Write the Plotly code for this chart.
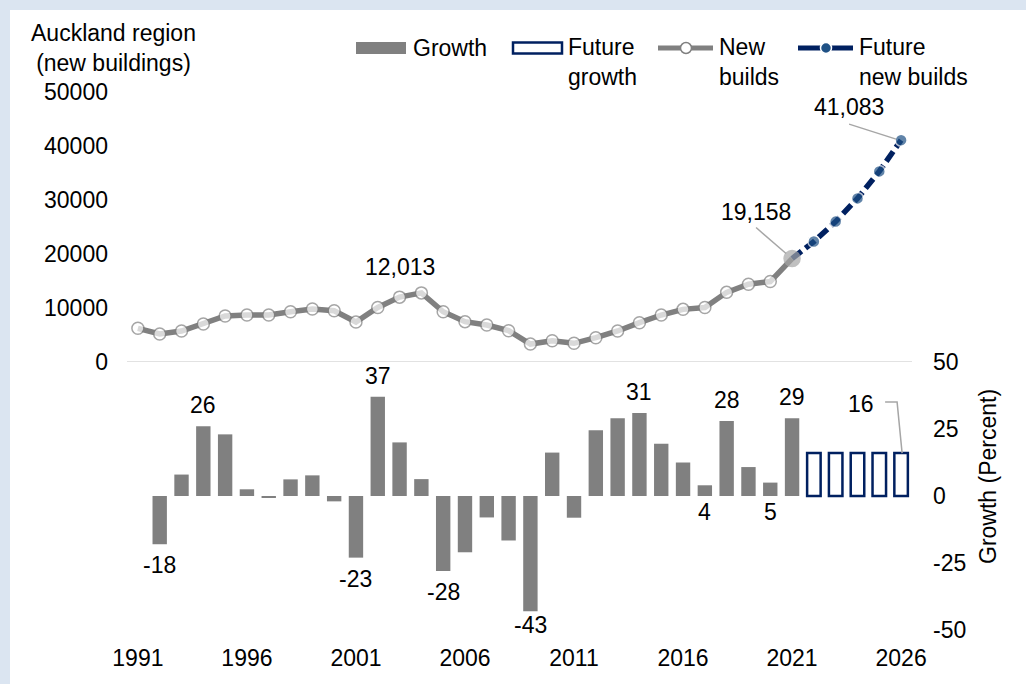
import plotly.graph_objects as go

# ---- data ----
years_hist = list(range(1991, 2022))
new_builds = [6240, 5180, 5740, 7040, 8520, 8700, 8700, 9300, 9800, 9500,
              7400, 10100, 12013, 12800, 9300, 7470, 6850, 5800, 3330, 3950,
              3460, 4500, 5740, 7280, 8700, 9750, 10100, 12900, 14400, 14900,
              19158]

years_future = list(range(2021, 2027))
future_builds = [19158, 22300, 26000, 30300, 35300, 41083]

growth_years = list(range(1992, 2022))
growth = [-18, 8, 26, 23, 2.5, -0.7, 6.2, 7.7, -2, -23,
          37, 20, 6.3, -28, -21, -8, -16.6, -43, 16.2, -8.1,
          24.5, 29, 31, 19.5, 12.5, 4, 28, 10.8, 5, 29]

future_growth_years = list(range(2022, 2027))
future_growth = [16, 16, 16, 16, 16]

growth_labelled = [1992, 1994, 2001, 2002, 2005, 2009, 2014, 2017, 2018, 2020, 2021]
growth_label_below_axis = [2017, 2020]

left_ticks = [0, 10000, 20000, 30000, 40000, 50000]
right_ticks = [-50, -25, 0, 25, 50]
x_ticks = [1991, 1996, 2001, 2006, 2011, 2016, 2021, 2026]

# ---- styling ----
FONT = "Liberation Sans, Arial, sans-serif"
FS = 23
GREY = "#808080"
LIGHT = "#a6a6a6"
NAVY = "#002060"
DOT = "#1f5185"
BAND = "#dbe5f1"

W, H = 1026, 684
L, R, T, B = 127, 114, 92, 54
PW, PH = W - L - R, H - T - B
SPLIT = (H - B - 362) / PH  # upper/lower panel boundary


def fx(px):
    return (px - L) / PW


def fy(py):
    return (H - B - py) / PH


fig = go.Figure()

# growth bars
fig.add_trace(go.Bar(x=growth_years, y=growth, yaxis="y2", width=0.66,
                     marker=dict(color=GREY, line=dict(width=0)), name="Growth"))
fig.add_trace(go.Bar(x=future_growth_years, y=future_growth, yaxis="y2", width=0.62,
                     marker=dict(color="white", line=dict(color=NAVY, width=2.5)),
                     name="Future growth"))

# future new builds line (drawn first so the 2021 point sits on top)
fig.add_trace(go.Scatter(
    x=years_future, y=future_builds, yaxis="y", mode="lines+markers",
    line=dict(color=NAVY, width=5.5, dash="12px,5px"),
    marker=dict(size=[0] + [12] * (len(years_future) - 1), color=DOT,
                line=dict(color="white", width=1.5)),
    name="Future new builds"))

# historic new builds line
n = len(years_hist)
fig.add_trace(go.Scatter(
    x=years_hist, y=new_builds, yaxis="y", mode="lines+markers",
    line=dict(color=GREY, width=5.5),
    marker=dict(size=[12] * (n - 1) + [16],
                color=["white"] * (n - 1) + [LIGHT],
                line=dict(color=[GREY] * (n - 1) + [LIGHT], width=1.5)),
    name="New builds"))

shapes = []
annotations = []

# background bands
shapes.append(dict(type="rect", xref="paper", yref="paper", x0=fx(0), x1=fx(W),
                   y0=fy(10), y1=fy(0), fillcolor=BAND, line=dict(width=0), layer="below"))
shapes.append(dict(type="rect", xref="paper", yref="paper", x0=fx(0), x1=fx(10),
                   y0=fy(H), y1=fy(0), fillcolor=BAND, line=dict(width=0), layer="below"))

# baseline of the building panel
shapes.append(dict(type="line", xref="paper", yref="y", x0=0, x1=1, y0=0, y1=0,
                   line=dict(color="#d9d9d9", width=1.5), layer="below"))

# growth bar labels
for yr in growth_labelled:
    v = growth[growth_years.index(yr)]
    if yr in growth_label_below_axis:
        annotations.append(dict(x=yr, y=0, yref="y2", text=f"{v:.0f}", showarrow=False,
                                yshift=-16, font=dict(size=FS)))
    else:
        shift = 21 if v > 0 else -21
        if v < -40:
            shift = -14
        annotations.append(dict(x=yr, y=v, yref="y2", text=f"{v:.0f}", showarrow=False,
                                yshift=shift, font=dict(size=FS)))

# future growth label with elbow leader
fg_last_x, fg_last_y = future_growth_years[-1], future_growth[-1]
annotations.append(dict(x=fg_last_x, y=fg_last_y, yref="y2", text=f"{fg_last_y:.0f}",
                        showarrow=False, xshift=-40, yshift=49, font=dict(size=FS)))
shapes.append(dict(type="path", xref="x", yref="y2", xsizemode="pixel", ysizemode="pixel",
                   xanchor=fg_last_x, yanchor=fg_last_y,
                   path="M-16,51 L-4,51 L1,0", line=dict(color=LIGHT, width=1.5)))

# building value labels
peak_year = 2003
peak_val = new_builds[years_hist.index(peak_year)]
annotations.append(dict(x=peak_year, y=peak_val, yref="y", text=f"{peak_val:,}",
                        showarrow=False, yshift=30, font=dict(size=FS)))

last_hist = new_builds[-1]
annotations.append(dict(x=years_hist[-1], y=last_hist, yref="y", text=f"{last_hist:,}",
                        showarrow=False, xshift=-36, yshift=47, font=dict(size=FS)))
shapes.append(dict(type="line", xref="x", yref="y", xsizemode="pixel", ysizemode="pixel",
                   xanchor=years_hist[-1], yanchor=last_hist,
                   x0=-36, y0=31, x1=-6, y1=5, line=dict(color=LIGHT, width=1.5)))

last_fut = future_builds[-1]
annotations.append(dict(x=years_future[-1], y=last_fut, yref="y", text=f"{last_fut:,}",
                        showarrow=False, xshift=-52, yshift=33, font=dict(size=FS)))
shapes.append(dict(type="line", xref="x", yref="y", xsizemode="pixel", ysizemode="pixel",
                   xanchor=years_future[-1], yanchor=last_fut,
                   x0=-52, y0=16, x1=-5, y1=1, line=dict(color=LIGHT, width=1.5)))

# axis titles
annotations.append(dict(xref="paper", yref="paper", x=fx(113), y=fy(48.5),
                        text="Auckland region<br>(new buildings)", showarrow=False,
                        xanchor="center", yanchor="middle", align="center",
                        font=dict(size=FS)))
annotations.append(dict(xref="paper", yref="paper", x=fx(988), y=fy(477),
                        text="Growth (Percent)", showarrow=False, textangle=-90,
                        xanchor="center", yanchor="middle", font=dict(size=FS)))

# legend
ly = 48
shapes.append(dict(type="rect", xref="paper", yref="paper", x0=fx(356), x1=fx(406),
                   y0=fy(ly + 6), y1=fy(ly - 6), fillcolor=GREY, line=dict(width=0)))
shapes.append(dict(type="rect", xref="paper", yref="paper", x0=fx(513), x1=fx(562),
                   y0=fy(ly + 5.5), y1=fy(ly - 5.5), fillcolor="white",
                   line=dict(color=NAVY, width=2.5)))
shapes.append(dict(type="line", xref="paper", yref="paper", x0=fx(658), x1=fx(713),
                   y0=fy(ly), y1=fy(ly), line=dict(color=GREY, width=5)))
shapes.append(dict(type="circle", xref="paper", yref="paper", xsizemode="pixel",
                   ysizemode="pixel", xanchor=fx(686), yanchor=fy(ly),
                   x0=-5.5, x1=5.5, y0=-5.5, y1=5.5, fillcolor="white",
                   line=dict(color=GREY, width=1.5)))
shapes.append(dict(type="line", xref="paper", yref="paper", x0=fx(798), x1=fx(853),
                   y0=fy(ly), y1=fy(ly), line=dict(color=NAVY, width=5)))
shapes.append(dict(type="circle", xref="paper", yref="paper", xsizemode="pixel",
                   ysizemode="pixel", xanchor=fx(826), yanchor=fy(ly),
                   x0=-5.5, x1=5.5, y0=-5.5, y1=5.5, fillcolor=DOT,
                   line=dict(color="white", width=1.5)))

annotations.append(dict(xref="paper", yref="paper", x=fx(411), y=fy(ly), text="Growth",
                        showarrow=False, xanchor="left", yanchor="middle",
                        font=dict(size=FS)))
for xpx, txt in [(566, "Future<br>growth"), (717, "New<br>builds"),
                 (857, "Future<br>new builds")]:
    annotations.append(dict(xref="paper", yref="paper", x=fx(xpx), y=fy(ly + 14),
                            text=txt, showarrow=False, xanchor="left", yanchor="middle",
                            align="left", font=dict(size=FS)))

fig.update_layout(
    width=W, height=H,
    margin=dict(l=L, r=R, t=T, b=B),
    paper_bgcolor="white", plot_bgcolor="white",
    font=dict(family=FONT, size=FS, color="#000000"),
    showlegend=False, barmode="overlay",
    xaxis=dict(range=[1990.5, 2026.5], tickvals=x_ticks, anchor="y2",
               showgrid=False, zeroline=False, showline=False, ticks="",
               ticklabelstandoff=12),
    yaxis=dict(domain=[SPLIT, 1], range=[0, 50000], tickvals=left_ticks,
               ticktext=[str(v) for v in left_ticks], showgrid=False, zeroline=False,
               showline=False, ticks="", ticklabelstandoff=18, anchor="x"),
    yaxis2=dict(domain=[0, SPLIT], range=[-50, 50], tickvals=right_ticks,
                ticktext=[str(v) for v in right_ticks], side="right",
                showgrid=False, zeroline=False, showline=False, ticks="",
                ticklabelstandoff=20, anchor="x"),
    shapes=shapes, annotations=annotations,
)

fig.write_html("out.html")
